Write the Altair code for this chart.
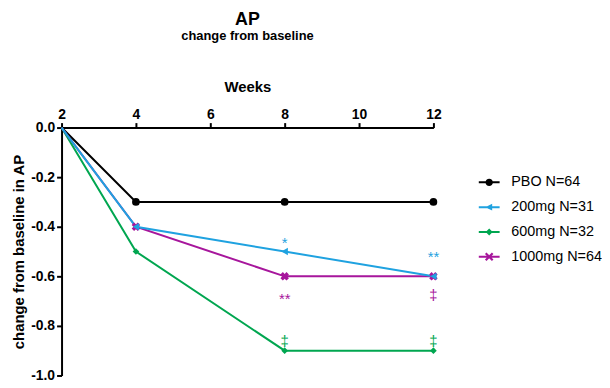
import altair as alt
import pandas as pd

# ---- data ----
weeks = [2, 4, 8, 12]
groups = ["PBO N=64", "200mg N=31", "600mg N=32", "1000mg N=64"]
pbo = [0.0, -0.3, -0.3, -0.3]
mg200 = [0.0, -0.4, -0.5, -0.6]
mg600 = [0.0, -0.5, -0.9, -0.9]
mg1000 = [0.0, -0.4, -0.6, -0.6]

x_ticks = [2, 4, 6, 8, 10, 12]
y_ticks = [0.0, -0.2, -0.4, -0.6, -0.8, -1.0]

ann_group = ["200mg N=31", "200mg N=31", "1000mg N=64", "1000mg N=64", "600mg N=32", "600mg N=32"]
ann_week = [8, 12, 8, 12, 8, 12]
ann_value = [-0.455, -0.512, -0.681, -0.665, -0.848, -0.848]
ann_label = ["*", "**", "**", "\u2021", "\u2021", "\u2021"]

# ---- styles ----
FONT = "Liberation Sans"
colors = {"PBO N=64": "#000000", "200mg N=31": "#1FA2E0",
          "600mg N=32": "#00A650", "1000mg N=64": "#A7169C"}
markers = {"PBO N=64": dict(shape="circle", size=60, angle=0),
           "200mg N=31": dict(shape="triangle-left", size=55, angle=0),
           "600mg N=32": dict(shape="diamond", size=45, angle=0),
           "1000mg N=64": dict(shape="cross", size=75, angle=45)}
BAR = "M-2.1,-0.2H2.1V0.2H-2.1Z"
legend_paths = [
    BAR + "M-0.75,0A0.75,0.75,0,1,1,0.75,0A0.75,0.75,0,1,1,-0.75,0Z",
    BAR + "M-0.8,0L0.6,-0.7L0.6,0.7Z",
    BAR + "M0,-0.7L0.7,0L0,0.7L-0.7,0Z",
    BAR + "M-0.545,-0.855L0.855,0.545L0.545,0.855L-0.855,-0.545Z"
          "M0.855,-0.545L-0.545,0.855L-0.855,0.545L0.545,-0.855Z",
]

series = {"PBO N=64": pbo, "200mg N=31": mg200, "600mg N=32": mg600, "1000mg N=64": mg1000}
rows = []
for g, vals in series.items():
    for w, v in zip(weeks, vals):
        rows.append({"week": w, "value": v, "group": g})
df = pd.DataFrame(rows)
ann = pd.DataFrame({"week": ann_week, "value": ann_value, "label": ann_label, "group": ann_group})

x_enc = alt.X("week:Q",
              scale=alt.Scale(domain=[2, 12], nice=False, zero=False),
              axis=alt.Axis(orient="top", values=x_ticks, format="d", title="Weeks",
                            labelPadding=1, titlePadding=13, labelFlush=False))
y_enc = alt.Y("value:Q",
              scale=alt.Scale(domain=[-1, 0], nice=False, zero=False),
              axis=alt.Axis(values=y_ticks, title="change from baseline in AP",
                            labelExpr="datum.value < 0 ? '-' + format(-datum.value, '.1f') : format(datum.value, '.1f')",
                            labelPadding=2, titlePadding=4))

base = alt.Chart(df)

# legend-only layer (no rows drawn)
legend_layer = base.transform_filter("false").mark_point(filled=True, opacity=1).encode(
    x=x_enc, y=y_enc,
    color=alt.Color("group:N", scale=alt.Scale(domain=groups, range=[colors[g] for g in groups]),
                    legend=alt.Legend(title=None, orient="none", legendX=424, legendY=48,
                                      symbolSize=100, labelFontSize=14.5, labelFont=FONT,
                                      labelColor="black", labelOffset=15, rowPadding=10,
                                      symbolStrokeWidth=0)),
    shape=alt.Shape("group:N", scale=alt.Scale(domain=groups, range=legend_paths)),
)

layers = [legend_layer]
draw_order = ["PBO N=64", "600mg N=32", "1000mg N=64", "200mg N=31"]
for g in draw_order:
    sub = base.transform_filter(alt.datum.group == g)
    layers.append(sub.mark_line(color=colors[g], strokeWidth=2).encode(x=x_enc, y=y_enc))
for g in draw_order:
    sub = base.transform_filter(alt.datum.group == g).transform_filter(alt.datum.week > 2)
    m = markers[g]
    layers.append(sub.mark_point(filled=True, opacity=1, color=colors[g], shape=m["shape"],
                                 size=m["size"], angle=m["angle"]).encode(x=x_enc, y=y_enc))
for g in ["200mg N=31", "1000mg N=64", "600mg N=32"]:
    sub = alt.Chart(ann).transform_filter(alt.datum.group == g)
    layers.append(sub.mark_text(color=colors[g], fontSize=15, font=FONT, baseline="middle",
                                dy=3).encode(x=x_enc, y=y_enc, text="label:N"))

chart = alt.layer(*layers).properties(
    width=375, height=250,
    autosize="none",
    padding={"left": 54, "top": 119, "right": 170, "bottom": 6},
    title=alt.Title("AP", subtitle="change from baseline", anchor="middle", frame="group",
                    font=FONT, fontSize=18, fontWeight="bold", color="black",
                    subtitleFont=FONT, subtitleFontSize=13, subtitleFontWeight="bold",
                    subtitleColor="black", subtitlePadding=1, offset=37),
).configure(font=FONT).configure_view(stroke=None).configure_axis(
    grid=False, domainColor="black", domainWidth=2, tickColor="black", tickWidth=2,
    tickSize=5, labelFont=FONT, labelFontSize=14, labelFontWeight="bold", labelColor="black",
    titleFont=FONT, titleFontSize=15, titleFontWeight="bold", titleColor="black",
)

chart.save("out.html", embed_options={"renderer": "svg", "actions": False})
